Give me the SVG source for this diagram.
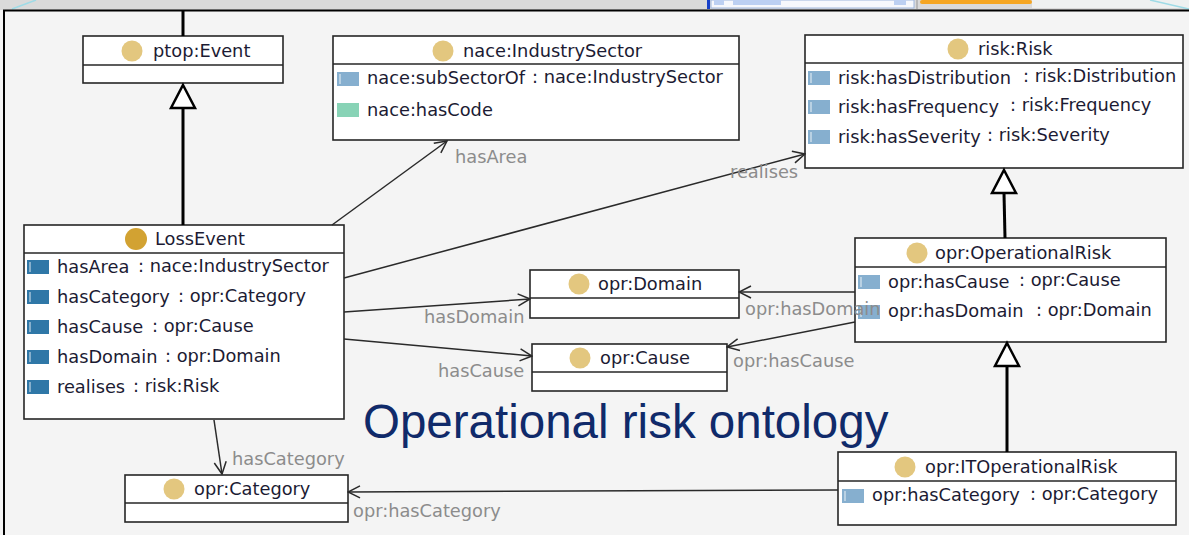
<svg xmlns="http://www.w3.org/2000/svg" width="1189" height="535" viewBox="0 0 1189 535">
<style>
.box{fill:#ffffff;stroke:#262626;stroke-width:1.6}
.div{stroke:#262626;stroke-width:1.6}
.t{font-family:"DejaVu Sans","Lucida Grande",sans-serif;font-size:17.8px;fill:#1c1b33}
.lbl{font-family:"DejaVu Sans","Lucida Grande",sans-serif;font-size:17.8px;fill:#8c8c8c}
.cls{fill:#e3c77f}
.cls2{fill:#d2a232}
.ip{fill:#86afcf}
.ipd{fill:#2f77a7}
.idp{fill:#88d3b6}
.stripe{stroke:#ffffff;stroke-width:1;opacity:0.85}
.edge{fill:none;stroke:#2a2a2a;stroke-width:1.5}
.isa{fill:none;stroke:#000000;stroke-width:3}
.tri{fill:#ffffff;stroke:#000000;stroke-width:2.5;stroke-linejoin:miter}
.title{font-family:"Liberation Sans",Arial,sans-serif;font-size:47.5px;fill:#102a6a}
</style>
<defs>
<marker id="open" viewBox="0 0 14 14" refX="13" refY="7" markerWidth="14" markerHeight="14" markerUnits="userSpaceOnUse" orient="auto">
<path d="M1,1 L13,7 L1,13" fill="none" stroke="#2a2a2a" stroke-width="1.5"/>
</marker>
<g id="iconP"><rect x="0" y="0" width="22" height="14" class="ip"/><line x1="3" y1="2" x2="3" y2="12" class="stripe"/></g>
<g id="iconD"><rect x="0" y="0" width="22" height="14" class="ipd"/><line x1="3" y1="2" x2="3" y2="12" class="stripe"/></g>
<g id="iconG"><rect x="0" y="0" width="22" height="14" class="idp"/></g>
</defs>

<!-- screen chrome -->
<rect x="0" y="0" width="1189" height="535" fill="#f4f4f4"/>
<rect x="0" y="0" width="1189" height="10" fill="#dadada"/>
<line x1="12" y1="9" x2="36" y2="0" stroke="#9fdbe6" stroke-width="1.5"/>
<rect x="707" y="0" width="3" height="9" fill="#1740c8"/>
<rect x="711" y="0" width="203" height="8" fill="#f6f8fc" stroke="#9eb6dc" stroke-width="1"/>
<rect x="714" y="0" width="10" height="5" fill="#bcd0f2"/>
<rect x="733" y="0" width="48" height="5" fill="#bcd0f2"/>
<rect x="894" y="0" width="12" height="5" fill="#bcd0f2"/>
<rect x="916" y="0" width="2" height="9" fill="#b8b8b8"/>
<rect x="920" y="0" width="112" height="4" rx="2" fill="#f5a623"/>
<rect x="1032" y="0" width="157" height="8" fill="#eef0f0"/>
<line x1="1150" y1="0" x2="1189" y2="9" stroke="#9fdbe6" stroke-width="1.5"/>
<line x1="3" y1="10.5" x2="1189" y2="10.5" stroke="#000" stroke-width="2"/>
<line x1="4" y1="10" x2="4" y2="535" stroke="#000" stroke-width="2"/>

<!-- nodes -->
<g id="ptop-event">
<rect x="83" y="36" width="200" height="47" class="box"/>
<line x1="83" y1="65" x2="283" y2="65" class="div"/>
<circle cx="132" cy="51" r="10.5" class="cls"/>
<text x="153" y="57" class="t">ptop:Event</text>
</g>

<g id="nace-industrysector">
<rect x="333" y="36" width="406" height="104" class="box"/>
<line x1="333" y1="64" x2="739" y2="64" class="div"/>
<circle cx="443" cy="51" r="10.5" class="cls"/>
<text x="463" y="57" class="t">nace:IndustrySector</text>
<use href="#iconP" x="337" y="72"/>
<text x="367" y="84" class="t">nace:subSectorOf</text>
<text x="532" y="83" class="t">: nace:IndustrySector</text>
<use href="#iconG" x="337" y="103"/>
<text x="367" y="116" class="t">nace:hasCode</text>
</g>

<g id="risk-risk">
<rect x="805" y="35" width="378" height="133" class="box"/>
<line x1="805" y1="63" x2="1183" y2="63" class="div"/>
<circle cx="958" cy="49" r="10.5" class="cls"/>
<text x="978" y="55" class="t">risk:Risk</text>
<use href="#iconP" x="808" y="71"/>
<text x="838" y="84" class="t">risk:hasDistribution</text>
<text x="1023" y="82" class="t">: risk:Distribution</text>
<use href="#iconP" x="808" y="100"/>
<text x="838" y="113" class="t">risk:hasFrequency</text>
<text x="1010" y="111" class="t">: risk:Frequency</text>
<use href="#iconP" x="808" y="130"/>
<text x="838" y="143" class="t">risk:hasSeverity</text>
<text x="987" y="141" class="t">: risk:Severity</text>
</g>

<g id="lossevent">
<rect x="24" y="225" width="320" height="194" class="box"/>
<line x1="24" y1="253" x2="344" y2="253" class="div"/>
<circle cx="136" cy="239" r="11" class="cls2"/>
<text x="155" y="245" class="t">LossEvent</text>
<use href="#iconD" x="27" y="260"/>
<text x="57" y="273" class="t">hasArea</text>
<text x="138" y="272" class="t">: nace:IndustrySector</text>
<use href="#iconD" x="27" y="290"/>
<text x="57" y="303" class="t">hasCategory</text>
<text x="178" y="302" class="t">: opr:Category</text>
<use href="#iconD" x="27" y="320"/>
<text x="57" y="333" class="t">hasCause</text>
<text x="152" y="332" class="t">: opr:Cause</text>
<use href="#iconD" x="27" y="350"/>
<text x="57" y="363" class="t">hasDomain</text>
<text x="165" y="362" class="t">: opr:Domain</text>
<use href="#iconD" x="27" y="380"/>
<text x="57" y="393" class="t">realises</text>
<text x="133" y="392" class="t">: risk:Risk</text>
</g>

<g id="opr-domain">
<rect x="530" y="270" width="209" height="48" class="box"/>
<line x1="530" y1="298" x2="739" y2="298" class="div"/>
<circle cx="579" cy="284" r="10.5" class="cls"/>
<text x="598" y="290" class="t">opr:Domain</text>
</g>

<g id="opr-cause">
<rect x="532" y="344" width="195" height="47" class="box"/>
<line x1="532" y1="372" x2="727" y2="372" class="div"/>
<circle cx="580" cy="358" r="10.5" class="cls"/>
<text x="600" y="364" class="t">opr:Cause</text>
</g>

<g id="opr-operationalrisk">
<rect x="855" y="238" width="311" height="104" class="box"/>
<line x1="855" y1="267" x2="1166" y2="267" class="div"/>
<circle cx="917" cy="253" r="10.5" class="cls"/>
<text x="935" y="259" class="t">opr:OperationalRisk</text>
<use href="#iconP" x="858" y="275"/>
<text x="888" y="288" class="t">opr:hasCause</text>
<text x="1019" y="286" class="t">: opr:Cause</text>
<use href="#iconP" x="858" y="305"/>
<text x="888" y="317" class="t">opr:hasDomain</text>
<text x="1036" y="316" class="t">: opr:Domain</text>
</g>

<g id="opr-itoperationalrisk">
<rect x="838" y="452" width="338" height="73" class="box"/>
<line x1="838" y1="481" x2="1176" y2="481" class="div"/>
<circle cx="905" cy="467" r="10.5" class="cls"/>
<text x="925" y="473" class="t">opr:ITOperationalRisk</text>
<use href="#iconP" x="842" y="489"/>
<text x="872" y="501" class="t">opr:hasCategory</text>
<text x="1030" y="500" class="t">: opr:Category</text>
</g>

<g id="opr-category">
<rect x="125" y="475" width="223" height="47" class="box"/>
<line x1="125" y1="503" x2="348" y2="503" class="div"/>
<circle cx="174" cy="489" r="10.5" class="cls"/>
<text x="194" y="495" class="t">opr:Category</text>
</g>

<text id="title" x="363" y="438" class="title">Operational risk ontology</text>

<!-- connectors -->
<g id="connectors">
<line x1="183" y1="11" x2="183" y2="36" class="isa"/>
<line x1="183" y1="225" x2="183" y2="108" class="isa"/>
<path d="M183,85 L195,108 L171,108 Z" class="tri"/>
<line x1="1005" y1="238" x2="1004" y2="193" class="isa"/>
<path d="M1004,170 L1016,193 L992,193 Z" class="tri"/>
<line x1="1007" y1="452" x2="1007" y2="366" class="isa"/>
<path d="M1007,343 L1019,366 L995,366 Z" class="tri"/>

<line x1="332" y1="225" x2="447" y2="141" class="edge" marker-end="url(#open)"/>
<text x="455" y="163" class="lbl">hasArea</text>
<line x1="344" y1="278" x2="805" y2="154" class="edge" marker-end="url(#open)"/>
<text x="730" y="178" class="lbl">realises</text>
<line x1="344" y1="312" x2="530" y2="299" class="edge" marker-end="url(#open)"/>
<text x="424" y="323" class="lbl">hasDomain</text>
<line x1="344" y1="339" x2="532" y2="356" class="edge" marker-end="url(#open)"/>
<text x="438" y="377" class="lbl">hasCause</text>
<line x1="855" y1="292" x2="739" y2="292" class="edge" marker-end="url(#open)"/>
<text x="745" y="315" class="lbl">opr:hasDomain</text>
<line x1="855" y1="322" x2="727" y2="347" class="edge" marker-end="url(#open)"/>
<text x="733" y="367" class="lbl">opr:hasCause</text>
<line x1="214" y1="420" x2="222" y2="474" class="edge" marker-end="url(#open)"/>
<text x="232" y="465" class="lbl">hasCategory</text>
<line x1="838" y1="490" x2="348" y2="492" class="edge" marker-end="url(#open)"/>
<text x="353" y="517" class="lbl">opr:hasCategory</text>
</g>
</svg>
